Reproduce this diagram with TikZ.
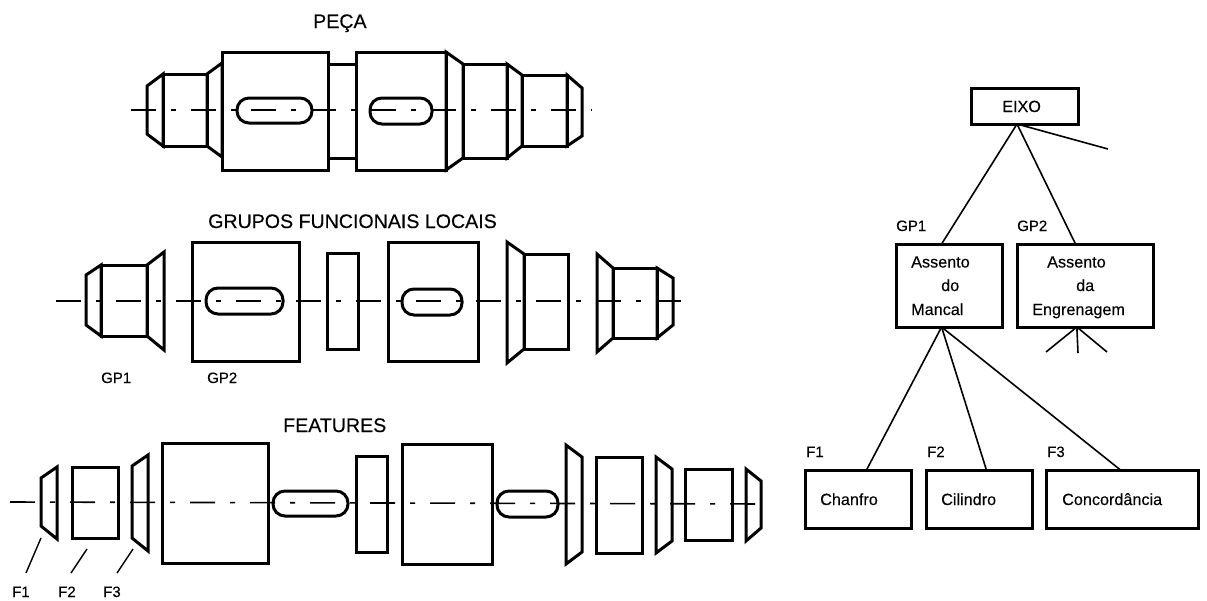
\documentclass[tikz,border=0pt]{standalone}
\usepackage{fontspec}
\setmainfont[FakeBold=0.25]{Liberation Sans}
\usetikzlibrary{calc}
\tikzset{
  part/.style={draw=black,line width=3pt,line join=miter},
  slot/.style={draw=black,line width=3pt,rounded corners=12pt},
  axis/.style={draw=black,line width=1.6pt,dash pattern=on 25pt off 15pt on 5pt off 15pt},
  lead/.style={draw=black,line width=1.4pt},
  link/.style={draw=black,line width=1.6pt},
  box/.style={draw=black,line width=3pt,inner sep=0pt,outer sep=0pt,fill=white},
  title/.style={anchor=base west,inner sep=0pt,font=\fontsize{19.6}{20}\selectfont},
  small/.style={anchor=base west,inner sep=0pt,font=\fontsize{15}{16}\selectfont},
  tag/.style={anchor=base west,inner sep=0pt,font=\fontsize{15}{16}\selectfont},
  txt/.style={anchor=base west,inner sep=0pt,font=\fontsize{16.2}{16}\selectfont}
}
\begin{document}
\begin{tikzpicture}[x=1pt,y=-1pt]
\useasboundingbox (0,0) rectangle (1207,600);
\fill[white] (0,0) rectangle (1207,600);
% ---- PECA
\node[title] (t1) at (313,28) {PEÇA};
\draw[axis] (131,110) -- (592,110);
\draw[part] (163,74) -- (147,86) -- (147,134) -- (163,146) -- cycle;
\draw[part] (163,74) rectangle (207,146);
\draw[part] (207,74) -- (222,63) -- (222,157) -- (207,146) -- cycle;
\draw[part] (222,52) rectangle (328,170);
\draw[part] (328,64) rectangle (356,158);
\draw[part] (356,52) rectangle (446,170);
\draw[part] (446,52) -- (463,64) -- (463,158) -- (446,170) -- cycle;
\draw[part] (463,64) rectangle (507,158);
\draw[part] (507,64) -- (522,75) -- (522,146) -- (507,158) -- cycle;
\draw[part] (522,75) rectangle (567,146);
\draw[part] (567,75) -- (582,88) -- (582,136) -- (567,146) -- cycle;
\draw[slot] (237,98) rectangle (312,123);
\draw[slot] (370,98) rectangle (432,124);
% ---- GRUPOS
\node[title] (t2) at (208,228) {GRUPOS FUNCIONAIS LOCAIS};
\draw[axis] (56,301) -- (694,301);
\draw[part] (101,265) -- (86,275) -- (86,325) -- (101,336) -- cycle;
\draw[part] (101,265) rectangle (147,336);
\draw[part] (147,265) -- (164,252) -- (164,350) -- (147,336) -- cycle;
\draw[part] (192,242) rectangle (299,361);
\draw[slot] (206,288) rectangle (283,314);
\draw[part] (327,253) rectangle (358,349);
\draw[part] (388,242) rectangle (478,361);
\draw[slot] (402,289) rectangle (462,315);
\draw[part] (507,242) -- (524,254) -- (524,349) -- (507,363) -- cycle;
\draw[part] (524,254) rectangle (568,349);
\draw[part] (597,254) -- (613,268) -- (613,338) -- (597,352) -- cycle;
\draw[part] (613,268) rectangle (657,338);
\draw[part] (657,268) -- (673,278) -- (673,325) -- (657,338) -- cycle;
\node[small] (g1) at (101,383) {GP1};
\node[small] (g2) at (207,383) {GP2};
% ---- FEATURES
\node[title] (t3) at (283,432) {FEATURES};
\draw[axis] (10,502) -- (768,504);
\draw[part] (41,478) -- (57,467) -- (57,539) -- (41,526) -- cycle;
\draw[part] (72,467) rectangle (118,538);
\draw[part] (132,466) -- (148,455) -- (148,551) -- (132,538) -- cycle;
\draw[part] (162,443) rectangle (268,563);
\draw[slot] (273,491) rectangle (348,516);
\draw[part] (356,456) rectangle (387,552);
\draw[part] (402,444) rectangle (492,564);
\draw[slot] (497,491) rectangle (558,517);
\draw[part] (566,445) -- (582,457) -- (582,552) -- (566,564) -- cycle;
\draw[part] (596,457) rectangle (642,553);
\draw[part] (656,457) -- (672,469) -- (672,541) -- (656,553) -- cycle;
\draw[part] (685,469) rectangle (732,540);
\draw[part] (746,469) -- (761,481) -- (761,528) -- (746,541) -- cycle;
\coordinate (l1a) at (41,538);
\coordinate (l1b) at (26,573);
\coordinate (l2a) at (87,549);
\coordinate (l2b) at (71,573);
\coordinate (l3a) at (133,549);
\coordinate (l3b) at (117,573);
\draw[lead] (l1a) -- (l1b);
\draw[lead] (l2a) -- (l2b);
\draw[lead] (l3a) -- (l3b);
\node[small] (f1a) at (12,597) {F1};
\node[small] (f2a) at (58,597) {F2};
\node[small] (f3a) at (103,597) {F3};
% ---- TREE
\node[box,minimum width=107pt,minimum height=36pt] (eixo) at (1024.5,106) {};
\node[box,minimum width=106pt,minimum height=83pt] (gp1) at (949,285.5) {};
\node[box,minimum width=136pt,minimum height=83pt] (gp2) at (1085,285.5) {};
\node[box,minimum width=106pt,minimum height=58pt] (f1) at (858,499) {};
\node[box,minimum width=106pt,minimum height=58pt] (f2) at (979,499) {};
\node[box,minimum width=152pt,minimum height=58pt] (f3) at (1122,499) {};
\coordinate (e3) at (1108,149);
\coordinate (s1) at (1046,352);
\coordinate (s2) at (1078,353);
\coordinate (s3) at (1107,352);
\coordinate (eo) at ($(eixo.south west)!.43!(eixo.south east)$);
\coordinate (g1o) at ($(gp1.south west)!.43!(gp1.south east)$);
\coordinate (g2o) at ($(gp2.south west)!.44!(gp2.south east)$);
\draw[link] (eo) -- ($(gp1.north west)!.43!(gp1.north east)$);
\draw[link] (eo) -- ($(gp2.north west)!.43!(gp2.north east)$);
\draw[link] (eo) -- (e3);
\draw[link] (g1o) -- ($(f1.north west)!.58!(f1.north east)$);
\draw[link] (g1o) -- ($(f2.north west)!.57!(f2.north east)$);
\draw[link] (g1o) -- ($(f3.north west)!.49!(f3.north east)$);
\draw[link] (g2o) -- (s1);
\draw[link] (g2o) -- (s2);
\draw[link] (g2o) -- (s3);
\node[txt] (eixot) at (1002,112) {EIXO};
\node[tag] (gl1) at (896,231) {GP1};
\node[tag] (gl2) at (1017,231) {GP2};
\node[txt] (a1) at (911,267.5) {Assento};
\node[txt] (a2) at (941,291) {do};
\node[txt] (a3) at (911,315) {Mancal};
\node[txt] (b1) at (1047,267.5) {Assento};
\node[txt] (b2) at (1076,291) {da};
\node[txt] (b3) at (1032,315) {Engrenagem};
\node[tag] (fl1) at (806,457) {F1};
\node[tag] (fl2) at (927,457) {F2};
\node[tag] (fl3) at (1047,457) {F3};
\node[txt] (c1) at (820,505) {Chanfro};
\node[txt] (c2) at (941,505) {Cilindro};
\node[txt] (c3) at (1062,505) {Concordância};
\end{tikzpicture}
\end{document}
